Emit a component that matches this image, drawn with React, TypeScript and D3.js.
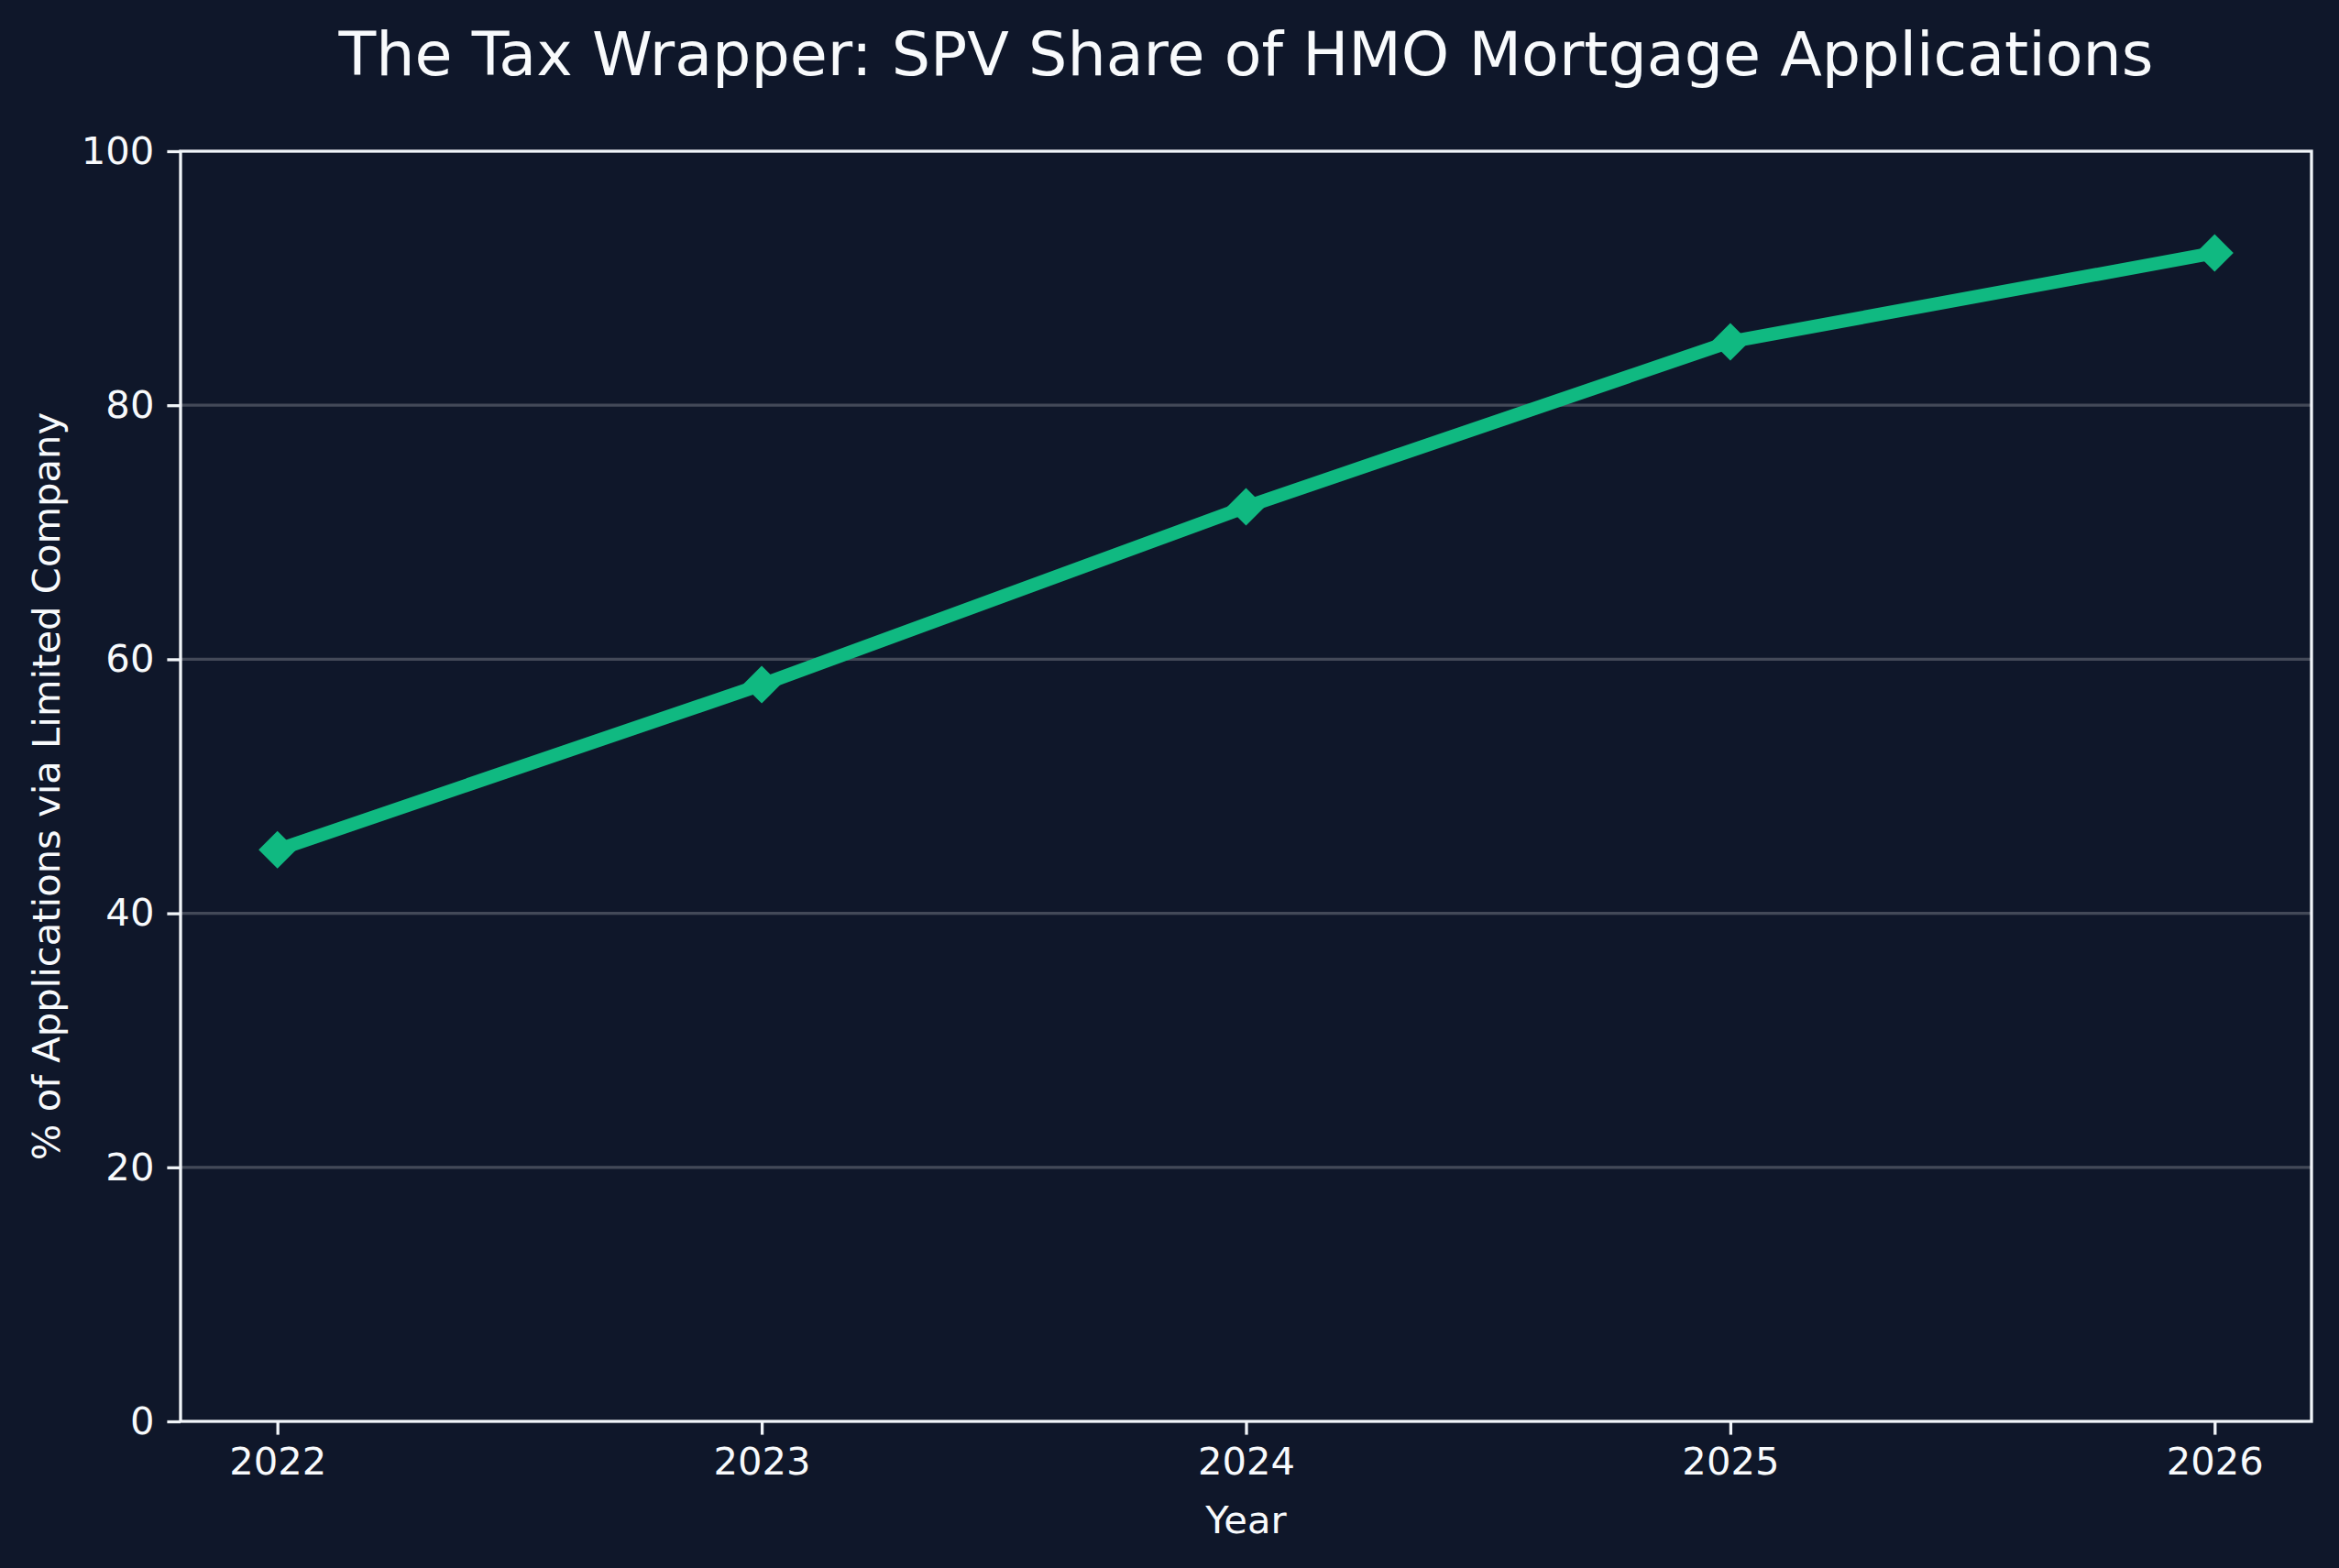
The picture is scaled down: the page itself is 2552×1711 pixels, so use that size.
import React, { useEffect, useRef } from 'react';
import * as d3 from 'd3';

// data
const years = [2022, 2023, 2024, 2025, 2026];
const spvShare = [45, 58, 72, 85, 92];
const yTicks = [0, 20, 40, 60, 80, 100];

const BG = '#0f172a';
const LINE = '#10b981';
const FONT = '"DejaVu Sans", sans-serif';

function App() {
    const ref = useRef<SVGSVGElement | null>(null);

    useEffect(() => {
        document.body.style.margin = '0';
        const width = 2552;
        const height = 1711;
        const margin = { top: 165, right: 30, bottom: 160, left: 197 };

        const svg = d3.select(ref.current);
        svg.selectAll('*').remove();

        svg.append('rect')
            .attr('width', width)
            .attr('height', height)
            .attr('fill', BG);

        const x = d3.scaleLinear()
            .domain([2021.8, 2026.2])
            .range([margin.left, width - margin.right]);

        const y = d3.scaleLinear()
            .domain([0, 100])
            .range([height - margin.bottom, margin.top]);

        // horizontal grid
        svg.append('g')
            .selectAll('line')
            .data(yTicks.filter(t => t > 0 && t < 100))
            .enter().append('line')
            .attr('x1', x.range()[0])
            .attr('x2', x.range()[1])
            .attr('y1', d => y(d))
            .attr('y2', d => y(d))
            .attr('stroke', '#ffffff')
            .attr('stroke-opacity', 0.22)
            .attr('stroke-width', 3.3);

        // axes
        const xAxis = svg.append('g')
            .attr('transform', `translate(0,${y(0)})`)
            .call(d3.axisBottom(x).tickValues(years).tickFormat(d3.format('d')).tickSize(14.6).tickPadding(14));

        const yAxis = svg.append('g')
            .attr('transform', `translate(${x.range()[0]},0)`)
            .call(d3.axisLeft(y).tickValues(yTicks).tickSize(14.6).tickPadding(14));

        [xAxis, yAxis].forEach(ax => {
            ax.select('.domain').remove();
            ax.selectAll('line').attr('stroke', '#f1f5f9').attr('stroke-width', 3.3);
            ax.selectAll('text')
                .attr('fill', '#f8fafc')
                .style('font-family', FONT)
                .style('font-size', '41.7px');
        });

        // frame
        svg.append('rect')
            .attr('x', x.range()[0])
            .attr('y', y(100))
            .attr('width', x.range()[1] - x.range()[0])
            .attr('height', y(0) - y(100))
            .attr('fill', 'none')
            .attr('stroke', '#f1f5f9')
            .attr('stroke-width', 3.3);

        const pts = years.map((yr, i) => [yr, spvShare[i]] as [number, number]);

        const line = d3.line<[number, number]>()
            .x(d => x(d[0]))
            .y(d => y(d[1]));

        svg.append('path')
            .datum(pts)
            .attr('d', line)
            .attr('fill', 'none')
            .attr('stroke', LINE)
            .attr('stroke-width', 14.6)
            .attr('stroke-linejoin', 'round');

        const r = 20.5;
        svg.append('g')
            .selectAll('path')
            .data(pts)
            .enter().append('path')
            .attr('d', d => {
                const cx = x(d[0]);
                const cy = y(d[1]);
                return `M${cx},${cy - r}L${cx + r},${cy}L${cx},${cy + r}L${cx - r},${cy}Z`;
            })
            .attr('fill', LINE);

        // title and labels
        svg.append('text')
            .attr('x', (x.range()[0] + x.range()[1]) / 2)
            .attr('y', 82)
            .attr('text-anchor', 'middle')
            .attr('fill', '#f8fafc')
            .style('font-family', FONT)
            .style('font-size', '66.7px')
            .text('The Tax Wrapper: SPV Share of HMO Mortgage Applications');

        svg.append('text')
            .attr('x', (x.range()[0] + x.range()[1]) / 2)
            .attr('y', 1673)
            .attr('text-anchor', 'middle')
            .attr('fill', '#f8fafc')
            .style('font-family', FONT)
            .style('font-size', '41.7px')
            .text('Year');

        svg.append('text')
            .attr('transform', `translate(65,${(y(0) + y(100)) / 2}) rotate(-90)`)
            .attr('text-anchor', 'middle')
            .attr('fill', '#f8fafc')
            .style('font-family', FONT)
            .style('font-size', '41.7px')
            .text('% of Applications via Limited Company');
    }, []);

    return (
        <svg ref={ref} width={2552} height={1711} style={{ display: 'block' }}></svg>
    );
}

export default App;
